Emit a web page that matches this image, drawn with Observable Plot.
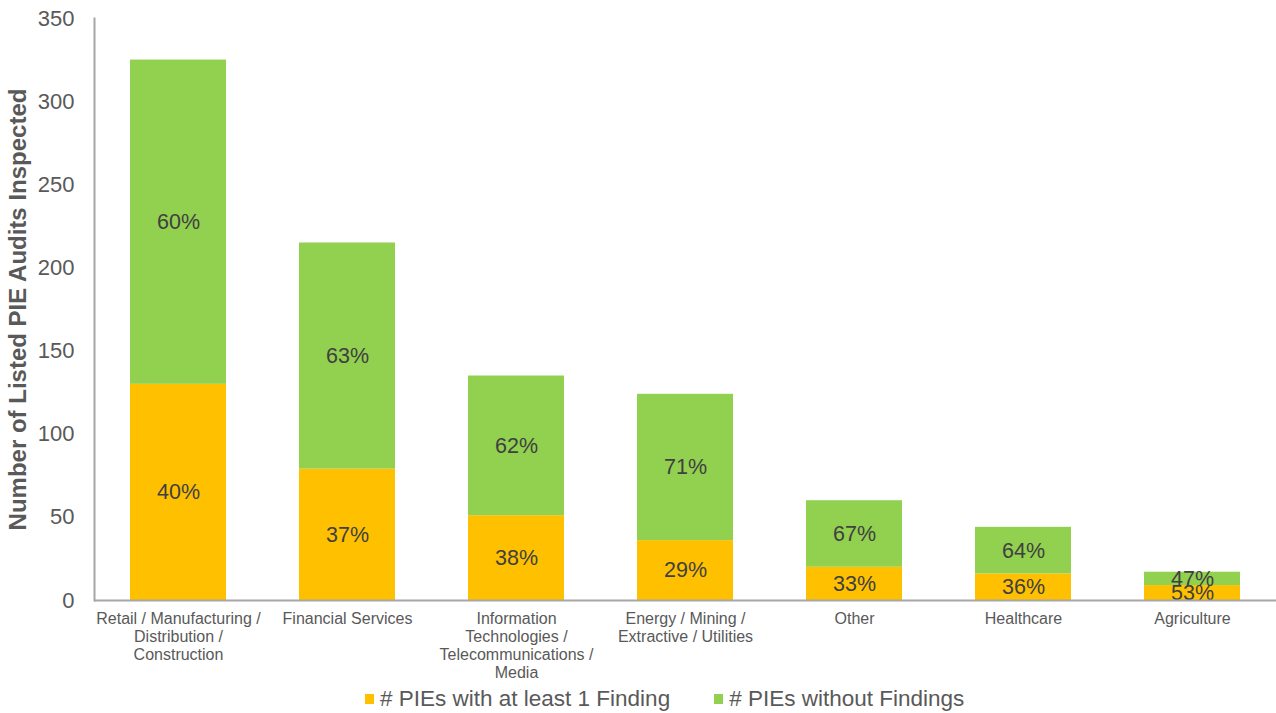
<!DOCTYPE html>
<html>
<head>
<meta charset="utf-8">
<script src="https://cdn.jsdelivr.net/npm/d3@7"></script>
<script src="https://cdn.jsdelivr.net/npm/@observablehq/plot@0.6"></script>
<style>
  html, body { margin: 0; padding: 0; background: #fff; }
  body { width: 1276px; height: 713px; position: relative; overflow: hidden; font-family: "Liberation Sans", Arial, sans-serif; }
  #legend { position: absolute; left: 365px; top: 686px; display: flex; align-items: center; font-size: 22.5px; color: #595959; white-space: nowrap; }
  #legend .item { display: flex; align-items: center; margin-right: 44px; }
  #legend .sw { width: 9px; height: 10px; margin-right: 6px; }
</style>
</head>
<body>
<div id="chart"></div>
<div id="legend"></div>
<script>
const categories = [
  "Retail / Manufacturing /\nDistribution /\nConstruction",
  "Financial Services",
  "Information\nTechnologies /\nTelecommunications /\nMedia",
  "Energy / Mining /\nExtractive / Utilities",
  "Other",
  "Healthcare",
  "Agriculture"
];
const withFinding = [130, 79, 51, 36, 20, 16, 9];
const withoutFindings = [195, 136, 84, 88, 40, 28, 8];
const pctWith = ["40%", "37%", "38%", "29%", "33%", "36%", "53%"];
const pctWithout = ["60%", "63%", "62%", "71%", "67%", "64%", "47%"];
const seriesNames = ["# PIEs with at least 1 Finding", "# PIEs without Findings"];
const seriesColors = ["#FFC000", "#92D050"];
const yTicks = [0, 50, 100, 150, 200, 250, 300, 350];

const data = [];
categories.forEach((c, i) => {
  data.push({cat: c, series: seriesNames[0], value: withFinding[i], label: pctWith[i], mid: withFinding[i] / 2});
  data.push({cat: c, series: seriesNames[1], value: withoutFindings[i], label: pctWithout[i], mid: withFinding[i] + withoutFindings[i] / 2});
});

const chart = Plot.plot({
  width: 1276,
  height: 686,
  marginLeft: 94,
  marginRight: 0,
  marginTop: 18,
  marginBottom: 86,
  style: {fontFamily: "'Liberation Sans', Arial, sans-serif", color: "#595959", background: "#fff"},
  x: {domain: categories, paddingInner: 0.43, paddingOuter: 0.21, label: null},
  y: {domain: [0, 350], ticks: yTicks, label: null},
  color: {domain: seriesNames, range: seriesColors},
  marks: [
    Plot.barY(data, {x: "cat", y: "value", fill: "series", order: seriesNames}),
    Plot.text(data, {x: "cat", y: "mid", text: "label", fontSize: 21.5, fill: "#404040"}),
    Plot.axisY({ticks: yTicks, tickSize: 0, tickPadding: 20, fontSize: 22, fill: "#595959", label: null}),
    Plot.axisX({tickSize: 0, tickPadding: 11, fontSize: 16, fill: "#595959", lineHeight: 1.125, label: null, textAnchor: "middle"}),
    Plot.ruleY([0], {stroke: "#a6a6a6", strokeWidth: 2}),
    Plot.frame({anchor: "left", stroke: "#a6a6a6", strokeWidth: 2}),
    Plot.text(["Number of Listed PIE Audits Inspected"], {frameAnchor: "left", textAnchor: "middle", rotate: -90, dx: -76, fontSize: 24, fontWeight: "bold", fill: "#595959"})
  ]
});
document.getElementById("chart").appendChild(chart);

const legend = document.getElementById("legend");
seriesNames.forEach((n, i) => {
  const item = document.createElement("div");
  item.className = "item";
  const sw = document.createElement("span");
  sw.className = "sw";
  sw.style.background = seriesColors[i];
  const t = document.createElement("span");
  t.textContent = n;
  item.appendChild(sw);
  item.appendChild(t);
  legend.appendChild(item);
});
</script>
</body>
</html>
